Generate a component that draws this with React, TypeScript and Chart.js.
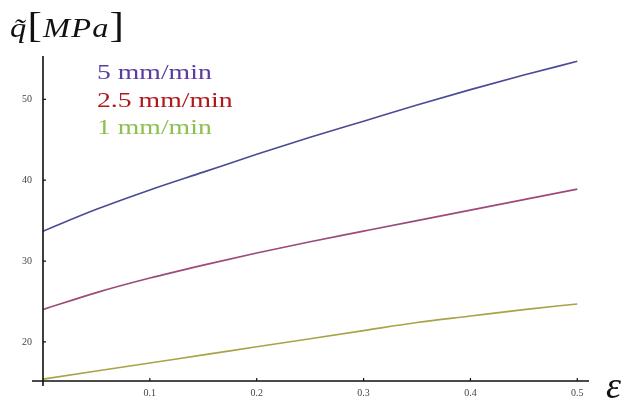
import React, { useEffect, useRef } from "react";
import { Chart, registerables } from "chart.js";

Chart.register(...registerables);

// strain values (x)
const eps = [0, 0.05, 0.1, 0.15, 0.2, 0.25, 0.3, 0.35, 0.4, 0.45, 0.5];
// q~ [MPa] for each speed
const q5 = [33.7, 36.4, 38.8, 41.0, 43.2, 45.3, 47.3, 49.3, 51.2, 53.0, 54.7];
const q25 = [24.0, 26.1, 27.9, 29.5, 31.0, 32.4, 33.7, 35.0, 36.3, 37.6, 38.9];
const q1 = [15.4, 16.4, 17.4, 18.4, 19.4, 20.4, 21.4, 22.4, 23.2, 24.0, 24.7];

const xTicks = [0.1, 0.2, 0.3, 0.4, 0.5];
const yTicks = [20, 30, 40, 50];
const legendLabels = ["5 mm/min", "2.5 mm/min", "1 mm/min"];
const legendColors = ["#5b3c9e", "#b0181c", "#8cc050"];
const lineColors = ["#4b4a95", "#9c4a78", "#a9a348"];

const axesPlugin = {
  id: "mathAxes",
  afterDatasetsDraw(chart: any) {
    const { ctx, chartArea, scales } = chart;
    const x0 = chartArea.left;
    const yb = chartArea.bottom;
    ctx.save();
    ctx.strokeStyle = "#111";
    ctx.lineWidth = 1.6;
    ctx.beginPath();
    ctx.moveTo(x0 - 11, yb);
    ctx.lineTo(chartArea.right + 1, yb);
    ctx.moveTo(x0, chartArea.top);
    ctx.lineTo(x0, yb + 5);
    ctx.stroke();
    ctx.lineWidth = 1.2;
    ctx.beginPath();
    for (const v of yTicks) {
      const py = scales.y.getPixelForValue(v);
      ctx.moveTo(x0, py);
      ctx.lineTo(x0 + 3, py);
    }
    for (const v of xTicks) {
      const px = scales.x.getPixelForValue(v);
      ctx.moveTo(px, yb);
      ctx.lineTo(px, yb - 3);
    }
    ctx.stroke();
    ctx.restore();
  },
};

export default function App() {
  const ref = useRef<HTMLCanvasElement | null>(null);
  useEffect(() => {
    if (!ref.current) return;
    const series = [q5, q25, q1];
    const chart = new Chart(ref.current, {
      type: "line",
      data: {
        datasets: series.map((s, i) => ({
          label: legendLabels[i],
          data: eps.map((e, j) => ({ x: e, y: s[j] })),
          borderColor: lineColors[i],
          borderWidth: 1.6,
          pointRadius: 0,
          cubicInterpolationMode: "monotone" as const,
          fill: false,
        })),
      },
      options: {
        responsive: false,
        animation: false,
        devicePixelRatio: 1,
        layout: { padding: { left: 0, right: 34, top: 56, bottom: 0 } },
        plugins: { legend: { display: false }, tooltip: { enabled: false } },
        scales: {
          x: {
            type: "linear",
            min: 0,
            max: 0.51,
            afterFit: (s: any) => {
              s.height = 23;
            },
            afterBuildTicks: (s: any) => {
              s.ticks = xTicks.map((v) => ({ value: v }));
            },
            grid: { display: false, drawTicks: false },
            border: { display: false },
            ticks: {
              padding: 6,
              color: "#444",
              font: { family: "Liberation Serif", size: 10 },
              callback: (v: any) => String(v),
            },
          },
          y: {
            type: "linear",
            min: 15.17,
            max: 55.36,
            afterFit: (s: any) => {
              s.width = 43;
            },
            afterBuildTicks: (s: any) => {
              s.ticks = yTicks.map((v) => ({ value: v }));
            },
            grid: { display: false, drawTicks: false },
            border: { display: false },
            ticks: {
              padding: 11,
              color: "#444",
              font: { family: "Liberation Serif", size: 10 },
            },
          },
        },
      },
      plugins: [axesPlugin],
    });
    return () => chart.destroy();
  }, []);

  const serif = "'Liberation Serif', 'Times New Roman', serif";
  return (
    <div
      style={{
        position: "fixed",
        left: 0,
        top: 0,
        width: 622,
        height: 404,
        background: "#fff",
        overflow: "hidden",
      }}
    >
      <canvas ref={ref} width={622} height={404} style={{ display: "block" }} />
      <div
        style={{
          position: "absolute",
          left: 10,
          top: 5,
          fontFamily: serif,
          fontStyle: "italic",
          fontSize: 27,
          lineHeight: "40px",
          whiteSpace: "nowrap",
          transform: "scaleX(1.2)",
          transformOrigin: "left",
          color: "#111",
          letterSpacing: 1,
        }}
      >
        <span>q̃</span>
        <span style={{ fontSize: 36, fontStyle: "normal" }}>[</span>
        <span>MPa</span>
        <span style={{ fontSize: 36, fontStyle: "normal" }}>]</span>
      </div>
      {legendLabels.map((t, i) => (
        <div
          key={t}
          style={{
            position: "absolute",
            left: 97,
            top: 62.4 + i * 27.5,
            fontFamily: serif,
            fontSize: 21,
            lineHeight: 1,
            whiteSpace: "nowrap",
            color: legendColors[i],
            transform: "scaleX(1.32)",
            transformOrigin: "left",
          }}
        >
          {t}
        </div>
      ))}
      <div
        style={{
          position: "absolute",
          left: 606,
          top: 366,
          fontFamily: serif,
          fontStyle: "italic",
          fontSize: 38,
          lineHeight: 1,
          color: "#111",
        }}
      >
        ε
      </div>
    </div>
  );
}
